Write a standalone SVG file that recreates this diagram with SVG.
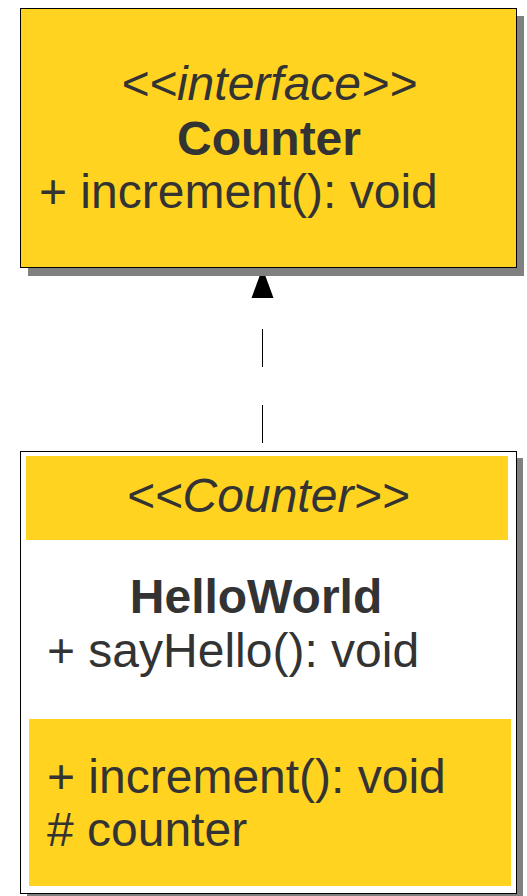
<svg xmlns="http://www.w3.org/2000/svg" width="527" height="896" viewBox="0 0 527 896">
  <style>
    .t { font-family: "Liberation Sans", Arial, sans-serif; font-size: 48px; fill: #333333; }
    .it { font-style: italic; }
    .b { font-weight: bold; }
    .mid { text-anchor: middle; }
    .shadow { fill: #808080; }
    .band { fill: #FFD320; }
    .dash { stroke: #000; stroke-width: 1; stroke-dasharray: 38 38; fill: none; }
  </style>

  <!-- realization connector: dashed line with filled head -->
  <g id="connectors">
    <line class="dash" x1="262.5" y1="443" x2="262.5" y2="290"/>
    <path d="M251.5,298 L262.5,268 L273.5,298 Z" fill="#000"/>
  </g>

  <!-- interface Counter -->
  <g id="counter">
    <rect class="shadow" x="28" y="16" width="496" height="260"/>
    <rect x="20.5" y="8.5" width="496" height="259" fill="#FFD320" stroke="#000" stroke-width="1"/>
    <text class="t it mid" x="269" y="100">&lt;&lt;interface&gt;&gt;</text>
    <text class="t b mid" x="269" y="155">Counter</text>
    <text class="t" x="39" y="208">+ increment(): void</text>
  </g>

  <!-- class HelloWorld -->
  <g id="helloworld">
    <rect class="shadow" x="27" y="458" width="496" height="444"/>
    <rect x="20.5" y="451.5" width="496" height="442" fill="#fff" stroke="#000" stroke-width="1"/>
    <rect class="band" x="26" y="456" width="482" height="84"/>
    <text class="t it mid" x="268" y="512">&lt;&lt;Counter&gt;&gt;</text>
    <text class="t b mid" x="256" y="613">HelloWorld</text>
    <text class="t" x="47" y="667">+ sayHello(): void</text>
    <rect class="band" x="29" y="719" width="482" height="167"/>
    <text class="t" x="47" y="793">+ increment(): void</text>
    <text class="t" x="47" y="846"># counter</text>
  </g>
</svg>
